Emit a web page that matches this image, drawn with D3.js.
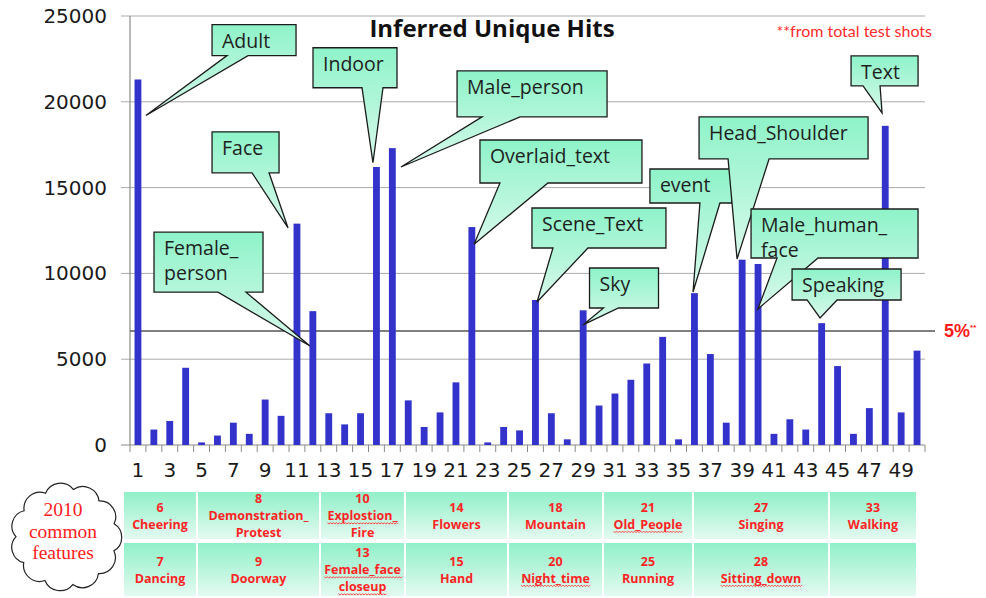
<!DOCTYPE html>
<html>
<head>
<meta charset="utf-8">
<script src="https://cdn.jsdelivr.net/npm/d3@7"></script>
<style>
  body { margin: 0; background: #fff; }
  svg { display: block; }
</style>
</head>
<body>
<svg id="chart" width="986" height="598"></svg>
<script>
// ---- data ----
const categories = d3.range(1, 51);
const hits = [
  21300, 900, 1400, 4500, 150, 550, 1300, 650, 2650, 1700,
  12900, 7800, 1850, 1200, 1850, 16200, 17300, 2600, 1050, 1900,
  3650, 12700, 150, 1050, 850, 8450, 1850, 330, 7850, 2300,
  3000, 3800, 4750, 6300, 330, 8850, 5300, 1300, 10800, 10550,
  650, 1500, 900, 7100, 4600, 650, 2150, 18600, 1900, 5500
];
const yTicks = [0, 5000, 10000, 15000, 20000, 25000];
const xTickLabels = categories.filter(c => c % 2 === 1);
const threshold = 6650;   // the "5%" line

// 2010 common features table (top row / bottom row)
const featTop = [
  ["6", "Cheering"], ["8", "Demonstration_", "Protest"], ["10", "Explostion_", "Fire"],
  ["14", "Flowers"], ["18", "Mountain"], ["21", "Old_People"], ["27", "Singing"], ["33", "Walking"]
];
const featBottom = [
  ["7", "Dancing"], ["9", "Doorway"], ["13", "Female_face", "closeup"],
  ["15", "Hand"], ["20", "Night_time"], ["25", "Running"], ["28", "Sitting_down"], []
];
const squiggled = ["Explostion_", "Female_face", "closeup", "Old_People", "Night_time", "Sitting_down"];

// callouts: tip / box anchor in data space (category, value), box size in px
const calloutLayout = [
  { lines: ["Adult"],            tip: [1.5, 19200],   box: [5.66, 24500],  w: 84,  h: 31, tail: [15, 36] },
  { lines: ["Face"],             tip: [10.44, 12650], box: [5.66, 18250],  w: 67,  h: 41, tail: [40, 57] },
  { lines: ["Female_", "person"],tip: [11.82, 5770],  box: [2.01, 12400],  w: 109, h: 60, tail: [64, 92] },
  { lines: ["Indoor"],           tip: [15.78, 16450], box: [12.01, 23150], w: 84,  h: 40, tail: [49, 70] },
  { lines: ["Male_person"],      tip: [17.54, 16200], box: [21.07, 21800], w: 150, h: 46, tail: [25, 63] },
  { lines: ["Overlaid_text"],    tip: [22.14, 11700], box: [22.51, 17775], w: 162, h: 43, tail: [20, 68] },
  { lines: ["Scene_Text"],       tip: [26.1, 8330],   box: [25.78, 13812], w: 134, h: 40, tail: [21, 56] },
  { lines: ["Sky"],              tip: [28.99, 7000],  box: [29.4, 10316],  w: 69,  h: 40, tail: [14, 29] },
  { lines: ["event"],            tip: [35.91, 8917],  box: [33.2, 16085],  w: 82,  h: 34, tail: [50, 70] },
  { lines: ["Head_Shoulder"],    tip: [38.68, 10840], box: [36.29, 19116], w: 169, h: 42, tail: [29, 70] },
  { lines: ["Male_human_", "face"], tip: [39.99, 7926], box: [39.56, 13754], w: 167, h: 49, tail: [26, 67] },
  { lines: ["Speaking"],         tip: [43.9, 7402],   box: [42.14, 10257], w: 109, h: 31, tail: [15, 45] },
  { lines: ["Text"],             tip: [47.8, 19349],  box: [45.85, 22671], w: 67,  h: 30, tail: [12, 29] }
];

// ---- scales ----
const svg = d3.select('#chart');
const plotL = 130, plotR = 925, plotT = 16, plotB = 445;

const x = d3.scaleBand().domain(categories).range([plotL, plotR])
  .paddingInner(0.57).paddingOuter(0.285);
const xc = d3.scaleLinear().domain([0.5, 50.5]).range([plotL, plotR]);
const y = d3.scaleLinear().domain([0, 25000]).range([plotB, plotT]);

const defs = svg.append('defs');
const cg = defs.append('linearGradient').attr('id', 'calloutFill')
  .attr('x1', 0).attr('y1', 0).attr('x2', 0).attr('y2', 1);
cg.append('stop').attr('offset', 0).attr('stop-color', '#8ef3c8');
cg.append('stop').attr('offset', 1).attr('stop-color', '#d8f9ec');
const tg = defs.append('linearGradient').attr('id', 'cellFill')
  .attr('x1', 0).attr('y1', 0).attr('x2', 0).attr('y2', 1);
tg.append('stop').attr('offset', 0).attr('stop-color', '#90f0c8');
tg.append('stop').attr('offset', 1).attr('stop-color', '#e4faf1');

// ---- grid + axes ----
svg.append('g').selectAll('line')
  .data(yTicks.filter(t => t > 0))
  .join('line')
  .attr('x1', plotL - 9).attr('x2', plotR)
  .attr('y1', d => y(d)).attr('y2', d => y(d))
  .attr('stroke', '#ababab').attr('stroke-width', 1);

svg.append('line')
  .attr('x1', plotL - 9).attr('x2', plotR).attr('y1', plotB).attr('y2', plotB)
  .attr('stroke', '#8a8a8a').attr('stroke-width', 1.2);
svg.append('line')
  .attr('x1', plotL).attr('x2', plotL).attr('y1', plotT).attr('y2', plotB)
  .attr('stroke', '#8a8a8a').attr('stroke-width', 1.2);

svg.append('g').selectAll('line')
  .data(d3.range(0, 51))
  .join('line')
  .attr('x1', d => xc(d + 0.5)).attr('x2', d => xc(d + 0.5))
  .attr('y1', plotB).attr('y2', plotB + 7)
  .attr('stroke', '#8a8a8a');

svg.append('g').selectAll('text')
  .data(yTicks)
  .join('text')
  .attr('x', 107).attr('y', d => y(d) + 7)
  .attr('text-anchor', 'end')
  .attr('font-family', 'DejaVu Sans').attr('font-size', 20)
  .attr('fill', '#1a1a1a')
  .text(d => d);

svg.append('g').selectAll('text')
  .data(xTickLabels)
  .join('text')
  .attr('x', d => x(d) + x.bandwidth() / 2).attr('y', 477)
  .attr('text-anchor', 'middle')
  .attr('font-family', 'DejaVu Sans').attr('font-size', 20)
  .attr('fill', '#1a1a1a')
  .text(d => d);

// 5% line
svg.append('line')
  .attr('x1', plotL).attr('x2', 935).attr('y1', y(threshold)).attr('y2', y(threshold))
  .attr('stroke', '#555').attr('stroke-width', 1.5);

// ---- bars ----
svg.append('g').selectAll('rect')
  .data(categories)
  .join('rect')
  .attr('x', d => x(d))
  .attr('width', x.bandwidth())
  .attr('y', (d, i) => y(hits[i]))
  .attr('height', (d, i) => plotB - y(hits[i]))
  .attr('fill', '#3333cc');

// ---- callouts ----
const cal = svg.append('g').selectAll('g')
  .data(calloutLayout)
  .join('g');

cal.append('path')
  .attr('d', d => {
    const x0 = xc(d.box[0]), y0 = y(d.box[1]);
    const x1 = x0 + d.w, y1 = y0 + d.h;
    const tx = xc(d.tip[0]), ty = y(d.tip[1]);
    return `M${x0},${y0}H${x1}V${y1}H${x0 + d.tail[1]}L${tx},${ty}L${x0 + d.tail[0]},${y1}H${x0}Z`;
  })
  .attr('fill', 'url(#calloutFill)')
  .attr('stroke', '#1c1c1c').attr('stroke-width', 1.3)
  .attr('stroke-linejoin', 'miter');

cal.each(function (d) {
  const g = d3.select(this);
  const x0 = xc(d.box[0]), y0 = y(d.box[1]);
  d.lines.forEach((ln, i) => {
    g.append('text')
      .attr('x', x0 + 10).attr('y', y0 + 23 + i * 25)
      .attr('font-family', 'Open Sans').attr('font-size', 19.5)
      .attr('fill', '#1e1e1e')
      .text(ln);
  });
});

// ---- titles ----
svg.append('text')
  .attr('x', 492).attr('y', 37)
  .attr('text-anchor', 'middle')
  .attr('font-family', 'Open Sans').attr('font-weight', 700).attr('font-size', 24)
  .attr('fill', '#111')
  .text('Inferred Unique Hits');

svg.append('text')
  .attr('x', 932).attr('y', 37)
  .attr('text-anchor', 'end')
  .attr('font-family', 'Lato').attr('font-size', 16)
  .attr('fill', '#ff2a2a')
  .text('**from total test shots');

const pct = svg.append('text')
  .attr('x', 944).attr('y', y(threshold) + 6)
  .attr('font-family', 'Liberation Sans').attr('font-weight', 700).attr('font-size', 18)
  .attr('fill', '#ff1a1a');
pct.append('tspan').text('5%');
pct.append('tspan').attr('font-size', 8).attr('dy', -7).text('**');

// ---- feature table ----
const colEdges = [123, 197, 320, 405, 508, 603, 693, 829, 917];
const rowBands = [[492, 539], [543, 596]];

function drawRow(cells, band) {
  cells.forEach((lines, i) => {
    const cx0 = colEdges[i] + 1, cx1 = colEdges[i + 1] - 1;
    svg.append('rect')
      .attr('x', cx0).attr('y', band[0])
      .attr('width', cx1 - cx0).attr('height', band[1] - band[0])
      .attr('fill', 'url(#cellFill)');
    const mid = (cx0 + cx1) / 2;
    const cy = (band[0] + band[1]) / 2;
    const lh = 17;
    lines.forEach((ln, j) => {
      const by = cy + (j - (lines.length - 1) / 2) * lh + 4.5;
      const t = svg.append('text')
        .attr('x', mid).attr('y', by)
        .attr('text-anchor', 'middle')
        .attr('font-family', 'Open Sans').attr('font-weight', 700).attr('font-size', 12.5)
        .attr('fill', '#ff2424')
        .text(ln);
      if (squiggled.includes(ln)) {
        const w = t.node().getComputedTextLength();
        const pts = d3.range(0, Math.ceil(w / 1.5) + 1).map(k => [mid - w / 2 + k * 1.5, by + 3 + (k % 2 ? 1.1 : -0.4)]);
        svg.append('path')
          .attr('d', d3.line()(pts))
          .attr('fill', 'none').attr('stroke', '#ff3030').attr('stroke-width', 0.9);
      }
    });
  });
}
drawRow(featTop, rowBands[0]);
drawRow(featBottom, rowBands[1]);

// ---- cloud ----
const cloudC = [66, 537], crx = 50, cry = 48, nb = 11;
const cpts = d3.range(nb).map(k => {
  const a = -Math.PI / 2 + k * 2 * Math.PI / nb + 0.15;
  return [cloudC[0] + crx * Math.cos(a), cloudC[1] + cry * Math.sin(a)];
});
let cd = `M${cpts[0][0]},${cpts[0][1]}`;
cpts.forEach((p, k) => {
  const q = cpts[(k + 1) % nb];
  const r = Math.hypot(q[0] - p[0], q[1] - p[1]) * 0.58;
  cd += `A${r},${r} 0 0 1 ${q[0]},${q[1]}`;
});
svg.append('path').attr('d', cd + 'Z')
  .attr('fill', '#fff').attr('stroke', '#222').attr('stroke-width', 1.2);

svg.append('g').selectAll('text')
  .data(['2010', 'common', 'features'])
  .join('text')
  .attr('x', 63).attr('y', (d, i) => 516 + i * 21.5)
  .attr('text-anchor', 'middle')
  .attr('font-family', 'Liberation Serif').attr('font-size', 19.5)
  .attr('fill', '#ff2020')
  .text(d => d);
</script>
</body>
</html>
